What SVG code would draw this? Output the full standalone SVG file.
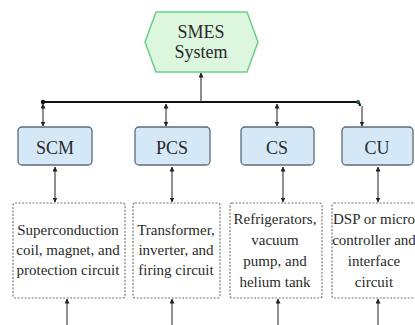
<svg xmlns="http://www.w3.org/2000/svg" width="415" height="325" viewBox="0 0 415 325">
<defs>
<marker id="ah" viewBox="0 0 10 10" refX="9" refY="5" markerWidth="5" markerHeight="5" orient="auto-start-reverse" markerUnits="userSpaceOnUse">
<path d="M0,0 L10,5 L0,10 z" fill="#222"/>
</marker>
<style>
.t{font-family:"Liberation Serif","Times New Roman",serif;fill:#2a2a2a;text-anchor:middle}
.lbl{font-size:18px}
.sm{font-size:15px}
.box{fill:#d5e8f7;stroke:#5b6b7b;stroke-width:1.3}
.dot{fill:#fff;stroke:#777;stroke-width:1.2;stroke-dasharray:2 1.5}
.c{stroke:#444;stroke-width:1.2;fill:none}
</style>
</defs>
<rect width="415" height="325" fill="#fff"/>
<g id="connectors">
<path d="M42,102 H356 Q360,102 360,106" stroke="#111" stroke-width="2" fill="none"/>
<circle cx="43" cy="102" r="2.2" fill="#111"/>
<circle cx="358" cy="102" r="2" fill="#1f5a2a"/>
<line class="c" x1="201" y1="102" x2="201" y2="73" marker-end="url(#ah)"/>
<line class="c" x1="43" y1="104" x2="43" y2="126" marker-start="url(#ah)" marker-end="url(#ah)"/>
<line class="c" x1="166" y1="104" x2="166" y2="126" marker-start="url(#ah)" marker-end="url(#ah)"/>
<line class="c" x1="277" y1="104" x2="277" y2="126" marker-start="url(#ah)" marker-end="url(#ah)"/>
<line class="c" x1="362" y1="106" x2="362" y2="126" marker-end="url(#ah)"/>
<line class="c" x1="55" y1="167" x2="55" y2="202" marker-start="url(#ah)" marker-end="url(#ah)"/>
<line class="c" x1="172" y1="167" x2="172" y2="202" marker-start="url(#ah)" marker-end="url(#ah)"/>
<line class="c" x1="283" y1="167" x2="283" y2="202" marker-start="url(#ah)" marker-end="url(#ah)"/>
<line class="c" x1="378" y1="167" x2="378" y2="202" marker-start="url(#ah)" marker-end="url(#ah)"/>
<line class="c" x1="67" y1="325" x2="67" y2="299" marker-end="url(#ah)"/>
<line class="c" x1="172" y1="325" x2="172" y2="299" marker-end="url(#ah)"/>
<line class="c" x1="278" y1="325" x2="278" y2="299" marker-end="url(#ah)"/>
<line class="c" x1="378" y1="325" x2="378" y2="299" marker-end="url(#ah)"/>
</g>
<g id="smes">
<polygon points="145,42 156,12 247,12 258,42 247,72 156,72" fill="#ddf6de" stroke="#6ccf85" stroke-width="1.5"/>
<text class="t lbl" x="201" y="38">SMES</text>
<text class="t lbl" x="201" y="58">System</text>
</g>
<g id="scm">
<rect class="box" x="18" y="127" width="74" height="38" rx="4"/>
<text class="t lbl" x="55" y="154">SCM</text>
</g>
<g id="pcs">
<rect class="box" x="135" y="127" width="75" height="38" rx="4"/>
<text class="t lbl" x="172" y="154">PCS</text>
</g>
<g id="cs">
<rect class="box" x="241" y="127" width="73" height="38" rx="4"/>
<text class="t lbl" x="277" y="154">CS</text>
</g>
<g id="cu">
<rect class="box" x="342" y="127" width="71" height="38" rx="4"/>
<text class="t lbl" x="377" y="154">CU</text>
</g>
<g id="scm-detail">
<rect class="dot" x="13" y="203" width="112" height="95" rx="2"/>
<text class="t sm" x="68" y="235">Superconduction</text>
<text class="t sm" x="68" y="255">coil, magnet, and</text>
<text class="t sm" x="68" y="275">protection circuit</text>
</g>
<g id="pcs-detail">
<rect class="dot" x="133" y="203" width="87" height="95" rx="2"/>
<text class="t sm" x="176" y="235">Transformer,</text>
<text class="t sm" x="176" y="255">inverter, and</text>
<text class="t sm" x="176" y="275">firing circuit</text>
</g>
<g id="cs-detail">
<rect class="dot" x="230" y="203" width="92" height="95" rx="2"/>
<text class="t sm" x="275" y="224">Refrigerators,</text>
<text class="t sm" x="275" y="245">vacuum</text>
<text class="t sm" x="275" y="266">pump, and</text>
<text class="t sm" x="275" y="287">helium tank</text>
</g>
<g id="cu-detail">
<rect class="dot" x="332" y="203" width="88" height="95" rx="2"/>
<text class="t sm" x="374" y="224">DSP or micro</text>
<text class="t sm" x="374" y="245">controller and</text>
<text class="t sm" x="374" y="266">interface</text>
<text class="t sm" x="374" y="287">circuit</text>
</g>
</svg>
